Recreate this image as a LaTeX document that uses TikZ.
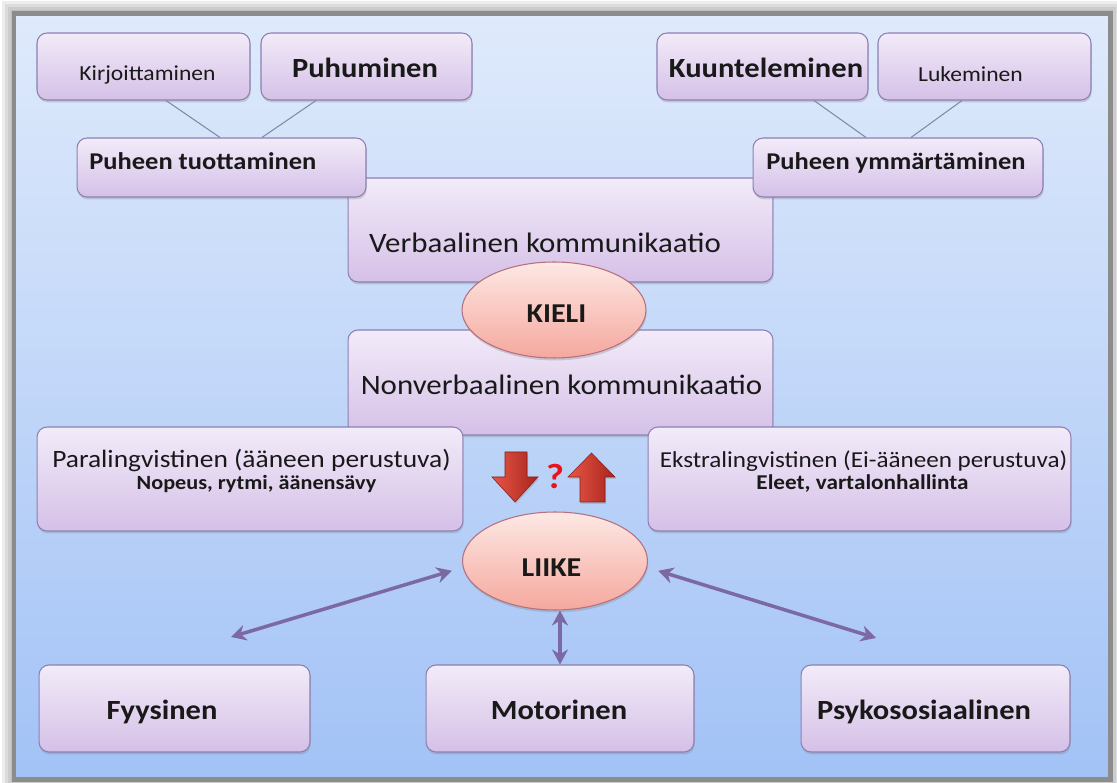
\documentclass[tikz,border=0pt]{standalone}
\usepackage{fontspec}
\setmainfont{Carlito}[FakeStretch=1.1]
\usetikzlibrary{arrows.meta,shadows,shapes.geometric}
\definecolor{boxtop}{RGB}{242,235,249}
\definecolor{boxbot}{RGB}{213,192,231}
\definecolor{boxline}{RGB}{140,128,178}
\definecolor{ovaltop}{RGB}{253,232,228}
\definecolor{ovalbot}{RGB}{245,168,158}
\definecolor{ovalline}{RGB}{180,112,126}
\definecolor{bgtop}{RGB}{223,234,251}
\definecolor{bgbot}{RGB}{162,194,246}
\definecolor{rimgray}{RGB}{140,140,140}
\definecolor{twowaycol}{RGB}{124,104,162}
\definecolor{linkcol}{RGB}{125,140,165}
\definecolor{blockred}{RGB}{232,86,70}
\definecolor{blockdark}{RGB}{168,36,28}
\definecolor{askred}{RGB}{232,20,28}
\newcommand{\BIG}{\fontsize{15.8}{18}\selectfont\bfseries}
\newcommand{\MID}{\fontsize{13.7}{16}\selectfont\bfseries}
\newcommand{\SMALL}{\fontsize{12.2}{14}\selectfont}
\newcommand{\KOMM}{\fontsize{16}{19}\selectfont}
\tikzset{
  box/.style={rectangle,rounded corners=0.2cm,inner sep=0pt,draw=boxline,line width=0.6pt,
    top color=boxtop,bottom color=boxbot,
    drop shadow={shadow xshift=0.4pt,shadow yshift=-1.4pt,opacity=0.3}},
  oval/.style={ellipse,inner sep=0pt,draw=ovalline,line width=0.6pt,
    top color=ovaltop,bottom color=ovalbot,
    drop shadow={shadow xshift=0.4pt,shadow yshift=-1.4pt,opacity=0.3}},
  link/.style={linkcol,line width=0.6pt},
  twoway/.style={twowaycol,line width=2pt,
    arrows={Stealth[length=0.3cm,width=0.32cm]-Stealth[length=0.3cm,width=0.32cm]}},
  blockarrow/.style={draw=blockdark!80!black,line width=0.3pt,left color=blockred,right color=blockdark,
    drop shadow={shadow xshift=0.6pt,shadow yshift=-1pt,opacity=0.3}},
  txt/.style={anchor=base,inner sep=0pt,text=black!90}
}
\begin{document}
\begin{tikzpicture}[x=0.02cm,y=-0.02cm]
    \useasboundingbox (0,0) rectangle (1117,783);
    \fill[white] (0,0) rectangle (1117,783);
    \foreach \d in {12,9,6,3}
      \fill[black,opacity=0.07] (14-\d,13.5-\d) rectangle (1110+\d,779.5+\d);
    \draw[rimgray,line width=0.1cm,top color=bgtop,bottom color=bgbot] (14,13.5) rectangle (1110,779.5);

    \node (kirj) at (143.5,66.5) [box,minimum width=4.26cm,minimum height=1.34cm] {};
    \node (puhu) at (366.5,66.5) [box,minimum width=4.22cm,minimum height=1.34cm] {};
    \node (kuun) at (762.5,66.5) [box,minimum width=4.22cm,minimum height=1.34cm] {};
    \node (luke) at (984.5,66.5) [box,minimum width=4.26cm,minimum height=1.34cm] {};
    \node (verb) at (560.5,230) [box,minimum width=8.5cm,minimum height=2.08cm] {};
    \node (tuot) at (221.5,167.5) [box,minimum width=5.78cm,minimum height=1.18cm] {};
    \node (ymma) at (898,167.5) [box,minimum width=5.8cm,minimum height=1.18cm] {};
    \draw[link] ([xshift=0.45cm]kirj.south) -- ([xshift=-0.03cm]tuot.north);
    \draw[link] ([xshift=-1.01cm]puhu.south) -- ([xshift=0.81cm]tuot.north);
    \draw[link] ([xshift=1.03cm]kuun.south) -- ([xshift=-0.64cm]ymma.north);
    \draw[link] ([xshift=-0.45cm]luke.south) -- ([xshift=0.26cm]ymma.north);
    \node (nonv) at (560.5,382.5) [box,minimum width=8.5cm,minimum height=2.1cm] {};
    \node (kieli) at (554,310) [oval,minimum width=3.68cm,minimum height=1.92cm] {};
    \node (para) at (250,479) [box,minimum width=8.52cm,minimum height=2.08cm] {};
    \node (ekst) at (859.5,479) [box,minimum width=8.46cm,minimum height=2.08cm] {};
    \node (liike) at (555,561) [oval,minimum width=3.7cm,minimum height=1.96cm] {};
    \node (fyys) at (174.5,708.5) [box,minimum width=5.42cm,minimum height=1.74cm] {};
    \node (moto) at (560,708.5) [box,minimum width=5.36cm,minimum height=1.74cm] {};
    \node (psyk) at (935.5,708.5) [box,minimum width=5.38cm,minimum height=1.74cm] {};

    \draw[blockarrow] (505,452) -- (527,452) -- (527,477) -- (538,477) -- (515,502)
      -- (492,477) -- (505,477) -- cycle;
    \draw[blockarrow] (591.5,453) -- (615,477) -- (605,477) -- (605,502) -- (580,502)
      -- (580,477) -- (568,477) -- cycle;
    \node (ask) at (555,476) [font=\fontsize{20}{22}\selectfont\bfseries,text=askred,inner sep=0pt] {?};

    \coordinate (fyysend) at (231,637);
    \coordinate (psykend) at (876,638);
    \draw[twoway,shorten >=0.23cm] (fyysend) -- (liike.184);
    \draw[twoway,shorten <=0.23cm] (liike.-4) -- (psykend);
    \draw[twoway] (liike.south -| moto.north) -- (moto.north);

    \node (kirjtext) at (147.5,81) [txt,font=\SMALL] {Kirjoittaminen};
    \node (puhutext) at (365,78) [txt,font=\BIG] {Puhuminen};
    \node (kuuntext) at (766,78) [txt,font=\BIG] {Kuunteleminen};
    \node (luketext) at (970.5,82) [txt,font=\SMALL] {Lukeminen};
    \node (tuottext) at (89,170) [txt,anchor=base west,font=\MID] {Puheen tuottaminen};
    \node (ymmatext) at (766,170) [txt,anchor=base west,font=\MID] {Puheen ymmärtäminen};
    \node (verbtext) at (545,253) [txt,font=\KOMM] {Verbaalinen kommunikaatio};
    \node (kielitext) at (556.5,323) [txt,font=\fontsize{15.5}{18}\selectfont\bfseries] {KIELI};
    \node (nonvtext) at (561.5,395) [txt,font=\KOMM] {Nonverbaalinen kommunikaatio};
    \node (paratext) at (251.5,468) [txt,font=\fontsize{14.2}{17}\selectfont] {Paralingvistinen (ääneen perustuva)};
    \node (paraex) at (256.5,490) [txt,font=\fontsize{11.5}{13}\selectfont\bfseries] {Nopeus, rytmi, äänensävy};
    \node (eksttext) at (863.5,468) [txt,font=\fontsize{13}{16}\selectfont] {Ekstralingvistinen (Ei-ääneen perustuva)};
    \node (ekstex) at (862.5,490) [txt,font=\fontsize{12}{14}\selectfont\bfseries] {Eleet, vartalonhallinta};
    \node (liiketext) at (551.5,577) [txt,font=\fontsize{15.5}{18}\selectfont\bfseries] {LIIKE};
    \node (fyystext) at (162,720) [txt,font=\BIG] {Fyysinen};
    \node (mototext) at (559,720) [txt,font=\BIG] {Motorinen};
    \node (psyktext) at (924,720) [txt,font=\BIG] {Psykososiaalinen};
\end{tikzpicture}
\end{document}
